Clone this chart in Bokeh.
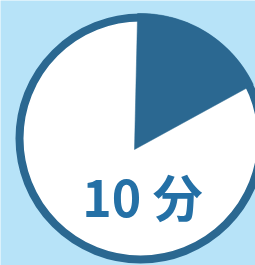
import math
from bokeh.plotting import figure
from bokeh.models import Range1d
from bokeh.core.properties import value
from bokeh.embed import file_html
from bokeh.resources import INLINE

# data
minutes = 10
total_minutes = 60
label = "10 分"

W, H = 255, 265
BG = "#b7e3f8"
DARK = "#2b6891"
TEXT = "#2470a6"

p = figure(width=W, height=H, output_backend="svg", toolbar_location=None,
           x_range=Range1d(0, W), y_range=Range1d(0, H), min_border=0)
p.axis.visible = False
p.grid.visible = False
p.outline_line_color = None
p.background_fill_color = BG
p.border_fill_color = BG

# clock face (image coords: center (140,138), outer radius 125, ring 8)
cx, cy = 140, H - 138
R_out = 125
ring = 8
p.circle(x=[cx], y=[cy], radius=R_out - ring / 2, fill_color="white",
         line_color=DARK, line_width=ring)

# wedge for elapsed minutes, apex slightly off-centre
ax, ay = 134, H - 149
tilt = 1.3
a0 = math.radians(90 - tilt)
a1 = a0 - math.radians(360 * minutes / total_minutes)

def hit(a):
    dx, dy = math.cos(a), math.sin(a)
    fx, fy = ax - cx, ay - cy
    b = fx * dx + fy * dy
    c = fx * fx + fy * fy - R_out ** 2
    t = -b + math.sqrt(b * b - c)
    return ax + t * dx, ay + t * dy

p0 = hit(a0)
p1 = hit(a1)
t0 = math.atan2(p0[1] - cy, p0[0] - cx)
t1 = math.atan2(p1[1] - cy, p1[0] - cx)
xs, ys = [ax], [ay]
n = 40
for i in range(n + 1):
    t = t0 + (t1 - t0) * i / n
    xs.append(cx + R_out * math.cos(t))
    ys.append(cy + R_out * math.sin(t))
p.patch(x=xs, y=ys, fill_color=DARK, line_color=DARK, line_width=0.5)

p.text(x=[142], y=[H - 194], text=[label], text_align="center",
       text_baseline="alphabetic", text_color=TEXT, text_font_size="50px",
       text_font=value("Noto Sans CJK JP"), text_font_style="bold")

open("out.html", "w").write(file_html(p, INLINE))
